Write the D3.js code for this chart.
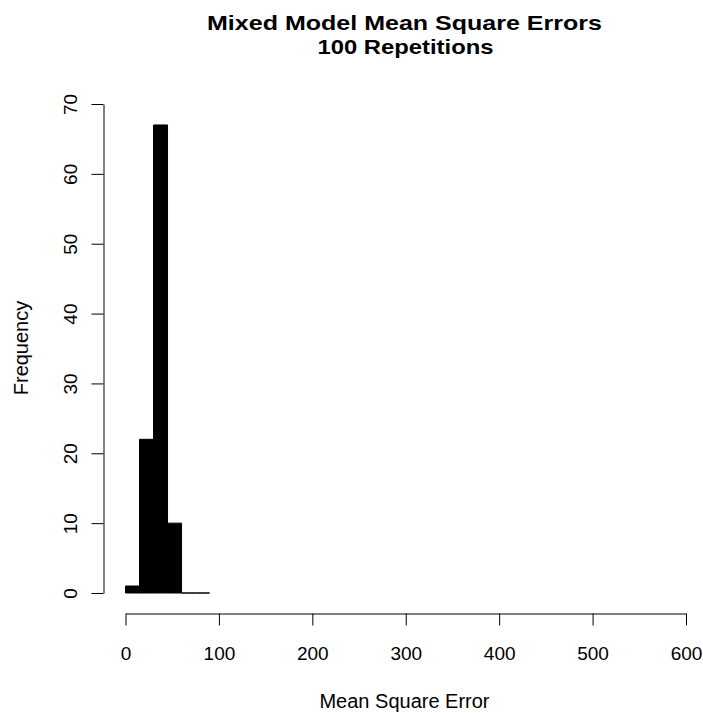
<!DOCTYPE html>
<meta charset="utf-8">
<title>Mixed Model Mean Square Errors</title>
<style>
  body { margin: 0; background: #fff; }
  text { font-family: "Liberation Sans", Arial, sans-serif; fill: #000; }
</style>
<body>
<div id="chart"></div>
<script src="https://d3js.org/d3.v7.min.js"></script>
<script>

// histogram bins (left edges, width 15) and their counts
const binStarts = [0, 15, 30, 45, 60, 75];
const binWidth = 15;
const counts = [1, 22, 67, 10, 0, 0];
const xTicks = [0, 100, 200, 300, 400, 500, 600];
const yTicks = [0, 10, 20, 30, 40, 50, 60, 70];

const W = 703, H = 713;

const svg = d3.select("#chart")
  .append("svg")
    .attr("width", W)
    .attr("height", H);

const x = d3.scaleLinear()
  .domain([0, 600])
  .range([125.5, 686]);

const y = d3.scaleLinear()
  .domain([0, 70])
  .range([593, 104]);

// bars as closed paths so that empty bins still show their bottom edge
svg.append("g")
  .selectAll("path")
  .data(binStarts)
  .join("path")
    .attr("d", (d, i) => {
      const x0 = x(d), x1 = x(d + binWidth);
      const y0 = y(0), y1 = y(counts[i]);
      return `M${x0},${y0}V${y1}H${x1}V${y0}Z`;
    })
    .attr("fill", "#000")
    .attr("stroke", "#000")
    .attr("stroke-width", 1);

// x axis
const xAxis = svg.append("g")
  .attr("transform", "translate(0,613.5)")
  .call(d3.axisBottom(x).tickValues(xTicks).tickSize(12).tickSizeOuter(0));
xAxis.selectAll("text").attr("font-size", 19).attr("dy", 0).attr("y", 46.5);

// y axis, labels turned like R does
const yAxis = svg.append("g")
  .attr("transform", "translate(103.5,0)")
  .call(d3.axisLeft(y).tickValues(yTicks).tickSize(12).tickSizeOuter(0));
yAxis.selectAll("text")
  .attr("font-size", 19)
  .attr("transform", "rotate(-90)")
  .attr("text-anchor", "middle")
  .attr("x", 0)
  .attr("y", -26.5)
  .attr("dy", 0);

svg.selectAll(".domain, .tick line").attr("stroke", "#000");

// titles
svg.append("text")
  .attr("x", 404.5).attr("y", 30)
  .attr("text-anchor", "middle")
  .attr("font-size", 21).attr("font-weight", "bold")
  .attr("textLength", 395).attr("lengthAdjust", "spacingAndGlyphs")
  .text("Mixed Model Mean Square Errors");

svg.append("text")
  .attr("x", 405.5).attr("y", 54)
  .attr("text-anchor", "middle")
  .attr("font-size", 21).attr("font-weight", "bold")
  .attr("textLength", 176).attr("lengthAdjust", "spacingAndGlyphs")
  .text("100 Repetitions");

svg.append("text")
  .attr("x", 404.5).attr("y", 708)
  .attr("text-anchor", "middle")
  .attr("font-size", 20)
  .text("Mean Square Error");

svg.append("text")
  .attr("transform", "translate(28,348) rotate(-90)")
  .attr("text-anchor", "middle")
  .attr("font-size", 20)
  .text("Frequency");

</script>
</body>
